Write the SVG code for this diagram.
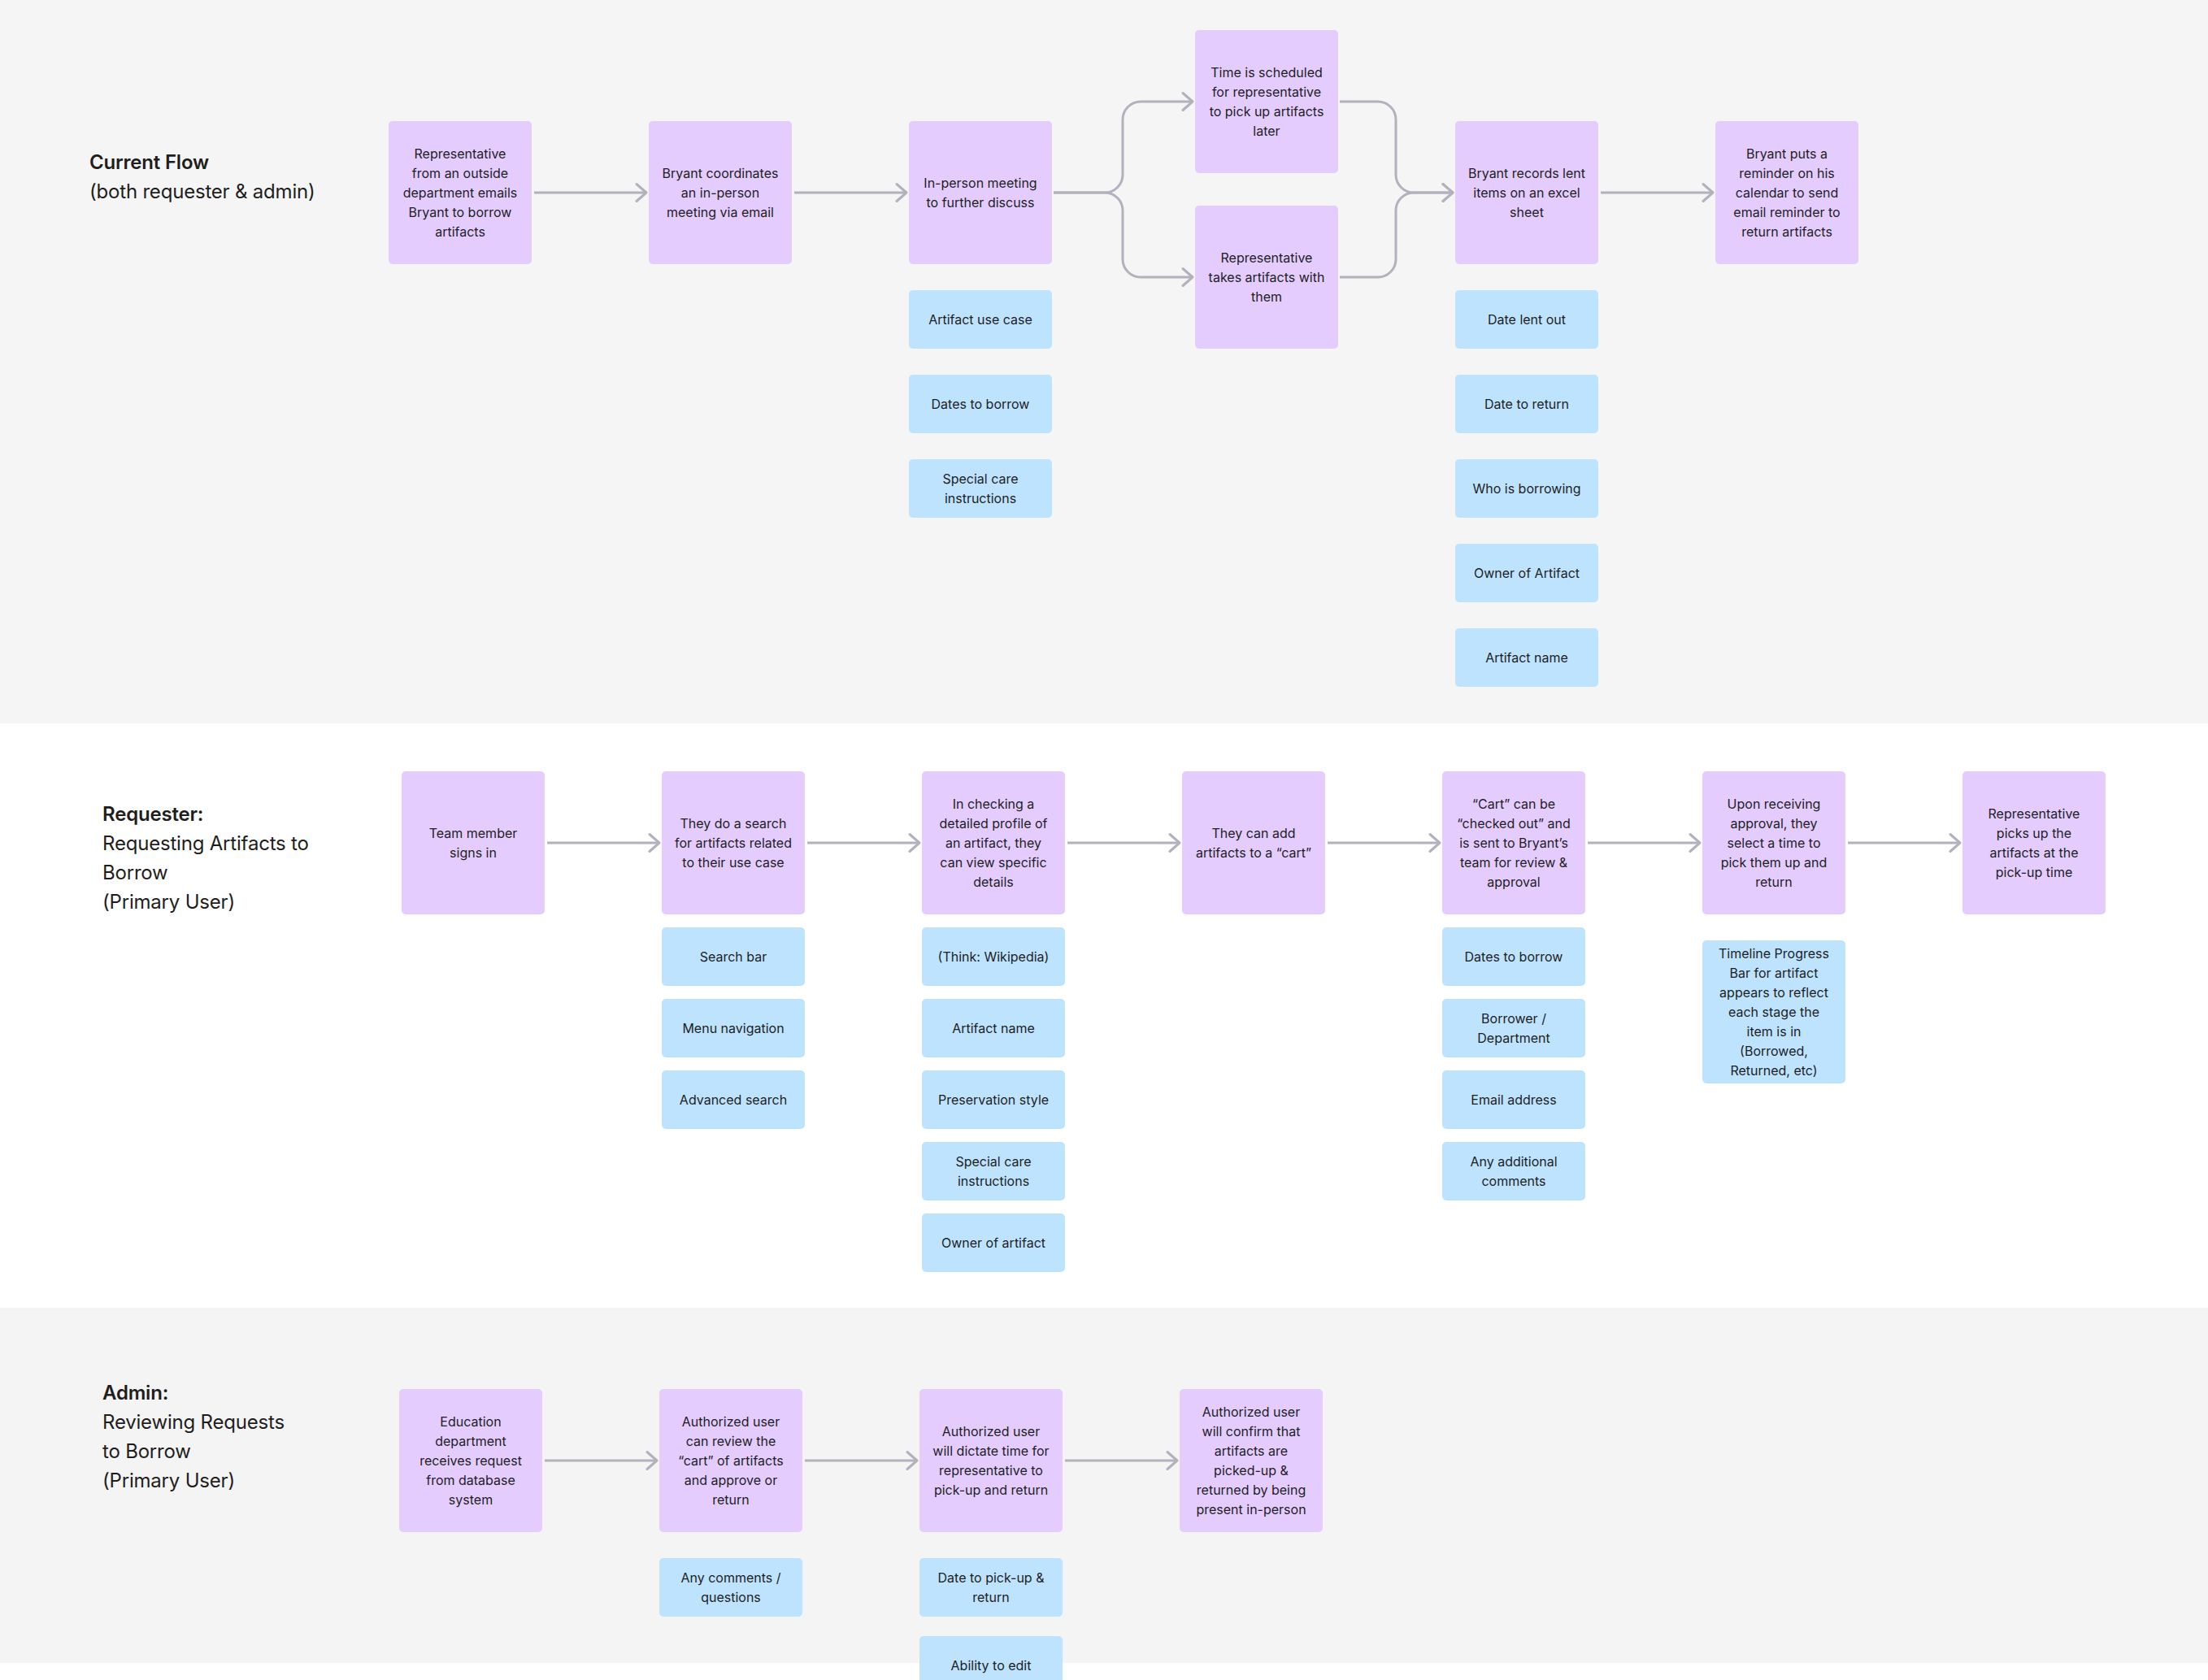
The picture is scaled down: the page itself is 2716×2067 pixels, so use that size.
<svg xmlns="http://www.w3.org/2000/svg" width="2716" height="2067" viewBox="0 0 2716 2067">
<style>
.bg1{fill:#f5f5f5}.bg3{fill:#f4f4f4}
.p{fill:#e4ccff}
.b{fill:#bde3ff}
.t{font-family:Inter,"Liberation Sans",sans-serif;font-size:16px;fill:#1e1e1e;text-anchor:middle;dominant-baseline:central}
.h{font-family:Inter,"Liberation Sans",sans-serif;font-size:24px;fill:#1e1e1e;dominant-baseline:central;letter-spacing:-0.2px}
.hb{font-weight:600}
.c{fill:none;stroke:#b4b0bd;stroke-width:3}
</style>
<defs>
<marker id="arr" viewBox="-16 -14 19 28" markerWidth="19" markerHeight="28" refX="0" refY="0" orient="auto" markerUnits="userSpaceOnUse">
<path d="M-12,-10.5 L0,0 L-12,10.5" fill="none" stroke="#b4b0bd" stroke-width="3" stroke-linecap="round" stroke-linejoin="round"/>
</marker>
</defs>
<rect x="0" y="0" width="2716" height="2067" fill="#ffffff"/>
<rect class="bg1" x="0" y="0" width="2716" height="890"/>
<rect class="bg3" x="0" y="1609" width="2716" height="437"/>

<g id="titles">
<text class="h hb" x="110" y="199.5">Current Flow</text>
<text class="h" x="110" y="235">(both requester &amp; admin)</text>
<text class="h hb" x="126" y="1001.5">Requester:</text>
<text class="h" x="126" y="1037.5">Requesting Artifacts to</text>
<text class="h" x="126" y="1073.5">Borrow</text>
<text class="h" x="126" y="1109.5">(Primary User)</text>
<text class="h hb" x="126" y="1713">Admin:</text>
<text class="h" x="126" y="1749">Reviewing Requests</text>
<text class="h" x="126" y="1785">to Borrow</text>
<text class="h" x="126" y="1821">(Primary User)</text>
</g>

<g id="connectors">
<path class="c" d="M657,237 H795" marker-end="url(#arr)"/>
<path class="c" d="M977,237 H1115" marker-end="url(#arr)"/>
<path class="c" d="M1296,237 H1359 A22,22 0 0 0 1381,215 V147 A22,22 0 0 1 1403,125 H1467" marker-end="url(#arr)"/>
<path class="c" d="M1296,237 H1359 A22,22 0 0 1 1381,259 V319 A22,22 0 0 0 1403,341 H1467" marker-end="url(#arr)"/>
<path class="c" d="M1648,125 H1695 A22,22 0 0 1 1717,147 V215 A22,22 0 0 0 1739,237 H1787" marker-end="url(#arr)"/>
<path class="c" d="M1648,341 H1695 A22,22 0 0 0 1717,319 V259 A22,22 0 0 1 1739,237 H1787" marker-end="url(#arr)"/>
<path class="c" d="M1969,237 H2107" marker-end="url(#arr)"/>

<path class="c" d="M673,1037 H811" marker-end="url(#arr)"/>
<path class="c" d="M993,1037 H1131" marker-end="url(#arr)"/>
<path class="c" d="M1313,1037 H1451" marker-end="url(#arr)"/>
<path class="c" d="M1633,1037 H1771" marker-end="url(#arr)"/>
<path class="c" d="M1953,1037 H2091" marker-end="url(#arr)"/>
<path class="c" d="M2273,1037 H2411" marker-end="url(#arr)"/>

<path class="c" d="M670,1797 H808" marker-end="url(#arr)"/>
<path class="c" d="M990,1797 H1128" marker-end="url(#arr)"/>
<path class="c" d="M1310,1797 H1448" marker-end="url(#arr)"/>
</g>

<!-- Section 1 -->
<g id="n1"><rect class="p" x="478" y="149" width="176" height="176" rx="5"/>
<text class="t" x="566" y="189">Representative</text><text class="t" x="566" y="213">from an outside</text><text class="t" x="566" y="237">department emails</text><text class="t" x="566" y="261">Bryant to borrow</text><text class="t" x="566" y="285">artifacts</text></g>
<g id="n2"><rect class="p" x="798" y="149" width="176" height="176" rx="5"/>
<text class="t" x="886" y="213">Bryant coordinates</text><text class="t" x="886" y="237">an in-person</text><text class="t" x="886" y="261">meeting via email</text></g>
<g id="n3"><rect class="p" x="1118" y="149" width="176" height="176" rx="5"/>
<text class="t" x="1206" y="225">In-person meeting</text><text class="t" x="1206" y="249">to further discuss</text></g>
<g id="n4"><rect class="p" x="1470" y="37" width="176" height="176" rx="5"/>
<text class="t" x="1558" y="89">Time is scheduled</text><text class="t" x="1558" y="113">for representative</text><text class="t" x="1558" y="137">to pick up artifacts</text><text class="t" x="1558" y="161">later</text></g>
<g id="n5"><rect class="p" x="1470" y="253" width="176" height="176" rx="5"/>
<text class="t" x="1558" y="317">Representative</text><text class="t" x="1558" y="341">takes artifacts with</text><text class="t" x="1558" y="365">them</text></g>
<g id="n6"><rect class="p" x="1790" y="149" width="176" height="176" rx="5"/>
<text class="t" x="1878" y="213">Bryant records lent</text><text class="t" x="1878" y="237">items on an excel</text><text class="t" x="1878" y="261">sheet</text></g>
<g id="n7"><rect class="p" x="2110" y="149" width="176" height="176" rx="5"/>
<text class="t" x="2198" y="189">Bryant puts a</text><text class="t" x="2198" y="213">reminder on his</text><text class="t" x="2198" y="237">calendar to send</text><text class="t" x="2198" y="261">email reminder to</text><text class="t" x="2198" y="285">return artifacts</text></g>

<g id="b1"><rect class="b" x="1118" y="357" width="176" height="72" rx="5"/><text class="t" x="1206" y="393">Artifact use case</text></g>
<g id="b2"><rect class="b" x="1118" y="461" width="176" height="72" rx="5"/><text class="t" x="1206" y="497">Dates to borrow</text></g>
<g id="b3"><rect class="b" x="1118" y="565" width="176" height="72" rx="5"/><text class="t" x="1206" y="589">Special care</text><text class="t" x="1206" y="613">instructions</text></g>
<g id="b4"><rect class="b" x="1790" y="357" width="176" height="72" rx="5"/><text class="t" x="1878" y="393">Date lent out</text></g>
<g id="b5"><rect class="b" x="1790" y="461" width="176" height="72" rx="5"/><text class="t" x="1878" y="497">Date to return</text></g>
<g id="b6"><rect class="b" x="1790" y="565" width="176" height="72" rx="5"/><text class="t" x="1878" y="601">Who is borrowing</text></g>
<g id="b7"><rect class="b" x="1790" y="669" width="176" height="72" rx="5"/><text class="t" x="1878" y="705">Owner of Artifact</text></g>
<g id="b8"><rect class="b" x="1790" y="773" width="176" height="72" rx="5"/><text class="t" x="1878" y="809">Artifact name</text></g>

<!-- Section 2 -->
<g id="r1"><rect class="p" x="494" y="949" width="176" height="176" rx="5"/>
<text class="t" x="582" y="1025">Team member</text><text class="t" x="582" y="1049">signs in</text></g>
<g id="r2"><rect class="p" x="814" y="949" width="176" height="176" rx="5"/>
<text class="t" x="902" y="1013">They do a search</text><text class="t" x="902" y="1037">for artifacts related</text><text class="t" x="902" y="1061">to their use case</text></g>
<g id="r3"><rect class="p" x="1134" y="949" width="176" height="176" rx="5"/>
<text class="t" x="1222" y="989">In checking a</text><text class="t" x="1222" y="1013">detailed profile of</text><text class="t" x="1222" y="1037">an artifact, they</text><text class="t" x="1222" y="1061">can view specific</text><text class="t" x="1222" y="1085">details</text></g>
<g id="r4"><rect class="p" x="1454" y="949" width="176" height="176" rx="5"/>
<text class="t" x="1542" y="1025">They can add</text><text class="t" x="1542" y="1049">artifacts to a “cart”</text></g>
<g id="r5"><rect class="p" x="1774" y="949" width="176" height="176" rx="5"/>
<text class="t" x="1862" y="989">“Cart” can be</text><text class="t" x="1862" y="1013">“checked out” and</text><text class="t" x="1862" y="1037">is sent to Bryant’s</text><text class="t" x="1862" y="1061">team for review &amp;</text><text class="t" x="1862" y="1085">approval</text></g>
<g id="r6"><rect class="p" x="2094" y="949" width="176" height="176" rx="5"/>
<text class="t" x="2182" y="989">Upon receiving</text><text class="t" x="2182" y="1013">approval, they</text><text class="t" x="2182" y="1037">select a time to</text><text class="t" x="2182" y="1061">pick them up and</text><text class="t" x="2182" y="1085">return</text></g>
<g id="r7"><rect class="p" x="2414" y="949" width="176" height="176" rx="5"/>
<text class="t" x="2502" y="1001">Representative</text><text class="t" x="2502" y="1025">picks up the</text><text class="t" x="2502" y="1049">artifacts at the</text><text class="t" x="2502" y="1073">pick-up time</text></g>

<g id="rb1"><rect class="b" x="814" y="1141" width="176" height="72" rx="5"/><text class="t" x="902" y="1177">Search bar</text></g>
<g id="rb2"><rect class="b" x="814" y="1229" width="176" height="72" rx="5"/><text class="t" x="902" y="1265">Menu navigation</text></g>
<g id="rb3"><rect class="b" x="814" y="1317" width="176" height="72" rx="5"/><text class="t" x="902" y="1353">Advanced search</text></g>
<g id="rb4"><rect class="b" x="1134" y="1141" width="176" height="72" rx="5"/><text class="t" x="1222" y="1177">(Think: Wikipedia)</text></g>
<g id="rb5"><rect class="b" x="1134" y="1229" width="176" height="72" rx="5"/><text class="t" x="1222" y="1265">Artifact name</text></g>
<g id="rb6"><rect class="b" x="1134" y="1317" width="176" height="72" rx="5"/><text class="t" x="1222" y="1353">Preservation style</text></g>
<g id="rb7"><rect class="b" x="1134" y="1405" width="176" height="72" rx="5"/><text class="t" x="1222" y="1429">Special care</text><text class="t" x="1222" y="1453">instructions</text></g>
<g id="rb8"><rect class="b" x="1134" y="1493" width="176" height="72" rx="5"/><text class="t" x="1222" y="1529">Owner of artifact</text></g>
<g id="rb9"><rect class="b" x="1774" y="1141" width="176" height="72" rx="5"/><text class="t" x="1862" y="1177">Dates to borrow</text></g>
<g id="rb10"><rect class="b" x="1774" y="1229" width="176" height="72" rx="5"/><text class="t" x="1862" y="1253">Borrower /</text><text class="t" x="1862" y="1277">Department</text></g>
<g id="rb11"><rect class="b" x="1774" y="1317" width="176" height="72" rx="5"/><text class="t" x="1862" y="1353">Email address</text></g>
<g id="rb12"><rect class="b" x="1774" y="1405" width="176" height="72" rx="5"/><text class="t" x="1862" y="1429">Any additional</text><text class="t" x="1862" y="1453">comments</text></g>
<g id="rb13"><rect class="b" x="2094" y="1157" width="176" height="176" rx="5"/>
<text class="t" x="2182" y="1173">Timeline Progress</text><text class="t" x="2182" y="1197">Bar for artifact</text><text class="t" x="2182" y="1221">appears to reflect</text><text class="t" x="2182" y="1245">each stage the</text><text class="t" x="2182" y="1269">item is in</text><text class="t" x="2182" y="1293">(Borrowed,</text><text class="t" x="2182" y="1317">Returned, etc)</text></g>

<!-- Section 3 -->
<g id="a1"><rect class="p" x="491" y="1709" width="176" height="176" rx="5"/>
<text class="t" x="579" y="1749">Education</text><text class="t" x="579" y="1773">department</text><text class="t" x="579" y="1797">receives request</text><text class="t" x="579" y="1821">from database</text><text class="t" x="579" y="1845">system</text></g>
<g id="a2"><rect class="p" x="811" y="1709" width="176" height="176" rx="5"/>
<text class="t" x="899" y="1749">Authorized user</text><text class="t" x="899" y="1773">can review the</text><text class="t" x="899" y="1797">“cart” of artifacts</text><text class="t" x="899" y="1821">and approve or</text><text class="t" x="899" y="1845">return</text></g>
<g id="a3"><rect class="p" x="1131" y="1709" width="176" height="176" rx="5"/>
<text class="t" x="1219" y="1761">Authorized user</text><text class="t" x="1219" y="1785">will dictate time for</text><text class="t" x="1219" y="1809">representative to</text><text class="t" x="1219" y="1833">pick-up and return</text></g>
<g id="a4"><rect class="p" x="1451" y="1709" width="176" height="176" rx="5"/>
<text class="t" x="1539" y="1737">Authorized user</text><text class="t" x="1539" y="1761">will confirm that</text><text class="t" x="1539" y="1785">artifacts are</text><text class="t" x="1539" y="1809">picked-up &amp;</text><text class="t" x="1539" y="1833">returned by being</text><text class="t" x="1539" y="1857">present in-person</text></g>

<g id="ab1"><rect class="b" x="811" y="1917" width="176" height="72" rx="5"/><text class="t" x="899" y="1941">Any comments /</text><text class="t" x="899" y="1965">questions</text></g>
<g id="ab2"><rect class="b" x="1131" y="1917" width="176" height="72" rx="5"/><text class="t" x="1219" y="1941">Date to pick-up &amp;</text><text class="t" x="1219" y="1965">return</text></g>
<g id="ab3"><rect class="b" x="1131" y="2013" width="176" height="72" rx="5"/><text class="t" x="1219" y="2049">Ability to edit</text></g>
</svg>
